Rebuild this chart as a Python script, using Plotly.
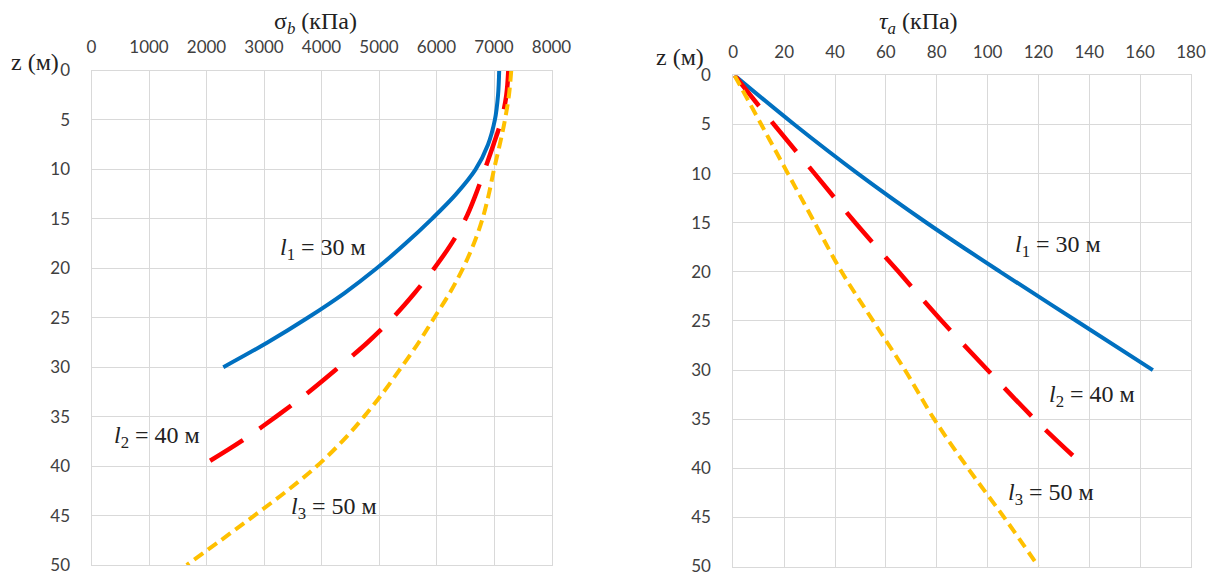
import plotly.graph_objects as go

# ---------------- data ----------------
# Left panel: sigma_b (kPa) vs depth z (m)
z_l1_sig = [0, 2.5, 5, 7.5, 10, 12.5, 15, 17.5, 20, 22.5, 25, 27.5, 30]
sig_l1 = [7090, 7070, 7015, 6895, 6680, 6340, 5920, 5460, 4960, 4400, 3760, 3060, 2292]

z_l2_sig = [0, 2.5, 5, 7.5, 10, 12.5, 15, 17.5, 20, 22.5, 25, 27.5, 30, 32.5, 35, 37.5, 39.5]
sig_l2 = [7250, 7215, 7130, 6990, 6840, 6685, 6505, 6260, 5960, 5620, 5240, 4800, 4300, 3780, 3210, 2600, 2050]

z_l3_sig = [0, 2.5, 5, 7.5, 10, 12.5, 15, 17.5, 20, 22.5, 25, 27.5, 30, 32.5, 35,
            37.5, 40, 42.5, 45, 47.5, 50]
sig_l3 = [7300, 7260, 7190, 7100, 7000, 6910, 6800, 6650, 6460, 6230, 5960, 5690, 5390, 5080, 4740,
          4360, 3920, 3400, 2830, 2250, 1655]

# Right panel: tau_a (kPa) vs depth z (m)
z_l1_tau = [0, 5, 10, 15, 20, 25, 30]
tau_l1 = [0.5, 24, 49, 76, 105, 135, 165]

z_l2_tau = [0, 5, 10, 15, 20, 25, 30, 35, 38.7]
tau_l2 = [0.5, 16, 32, 48, 65, 82, 100, 118.5, 133.5]

z_l3_tau = [0, 5, 10, 15, 20, 25, 30, 35, 40, 45, 50]
tau_l3 = [0.5, 11, 21.5, 32, 42.6, 55, 67.5, 79, 92.3, 106.5, 120]

sig_ticks = [0, 1000, 2000, 3000, 4000, 5000, 6000, 7000, 8000]
tau_ticks = [0, 20, 40, 60, 80, 100, 120, 140, 160, 180]
z_ticks = [0, 5, 10, 15, 20, 25, 30, 35, 40, 45, 50]

labels = ["<i>l</i><sub>1</sub> = 30 м", "<i>l</i><sub>2</sub> = 40 м", "<i>l</i><sub>3</sub> = 50 м"]

# ---------------- styles ----------------
OFF = 8                     # default page body margin
WIN_W, WIN_H = 1220, 575
W, H = WIN_W - OFF, WIN_H - OFF
BLUE, RED, YELLOW = "#0070C0", "#FF0000", "#FFC000"
GRID = "#d9d9d9"
TICKFONT = dict(family="Lato, Open Sans, sans-serif", size=17, color="#404040")
SERIF = "Liberation Serif, Times New Roman, serif"

def px(x):
    return (x - OFF) / W

def py(y):
    return 1 - (y - OFF) / H

fig = go.Figure()

styles = [
    dict(color=BLUE, width=4, dash="solid", shape="spline"),
    dict(color=RED, width=4.5, dash="39px,20px", shape="spline"),
    dict(color=YELLOW, width=4, dash="11px,6px", shape="spline"),
]

for xs, zs, st in zip([sig_l1, sig_l2, sig_l3], [z_l1_sig, z_l2_sig, z_l3_sig], styles):
    fig.add_trace(go.Scatter(x=xs, y=zs, mode="lines", line=st, xaxis="x", yaxis="y",
                             hoverinfo="skip"))
for xs, zs, st in zip([tau_l1, tau_l2, tau_l3], [z_l1_tau, z_l2_tau, z_l3_tau], styles):
    fig.add_trace(go.Scatter(x=xs, y=zs, mode="lines", line=st, xaxis="x2", yaxis="y2",
                             hoverinfo="skip"))

axis_common = dict(showgrid=True, gridcolor=GRID, gridwidth=1, zeroline=False,
                   showline=True, linecolor=GRID, linewidth=1, mirror=True,
                   ticks="", tickfont=TICKFONT, automargin=False,
                   ticklabeloverflow="allow")

fig.update_layout(
    width=W, height=H,
    margin=dict(l=0, r=0, t=0, b=0, autoexpand=False),
    paper_bgcolor="white", plot_bgcolor="white",
    showlegend=False,
    xaxis=dict(domain=[px(91.5), px(551.5)], range=[0, 8000], side="top",
               tickvals=sig_ticks, anchor="y", ticklabelstandoff=10, **axis_common),
    yaxis=dict(domain=[py(565), py(70.5)], range=[50, 0], tickvals=z_ticks,
               anchor="x", ticklabelstandoff=17, **axis_common),
    xaxis2=dict(domain=[px(733.3), px(1191)], range=[0, 180], side="top",
                tickvals=tau_ticks, anchor="y2", ticklabelstandoff=10, **axis_common),
    yaxis2=dict(domain=[py(566.5), py(75.4)], range=[50, 0], tickvals=z_ticks,
                anchor="x2", ticklabelstandoff=18, **axis_common),
)

ann = []
def paper_text(t, x, y, size):
    return dict(text=t, x=px(x), y=py(y), xref="paper", yref="paper",
                xanchor="center", yanchor="middle", showarrow=False,
                font=dict(family=SERIF, size=size, color="#222"))

# titles
ann.append(paper_text("σ<sub><i>b</i></sub> (кПа)", 315, 23, 24))
ann.append(paper_text("<i>τ<sub>a</sub></i> (кПа)", 918, 23, 24))
# z labels
ann.append(paper_text("z (м)", 35, 62, 24))
ann.append(paper_text("z (м)", 680, 57, 24))

# curve labels (data coords)
left_pos = [(4026, 18.0), (1139, 37.1), (4217, 44.2)]
right_pos = [(127.6, 17.4), (141, 32.6), (124.8, 42.6)]
for t, (x, y) in zip(labels, left_pos):
    ann.append(dict(text=t, x=x, y=y, xref="x", yref="y", showarrow=False,
                    xanchor="center", yanchor="middle",
                    font=dict(family=SERIF, size=24, color="#222")))
for t, (x, y) in zip(labels, right_pos):
    ann.append(dict(text=t, x=x, y=y, xref="x2", yref="y2", showarrow=False,
                    xanchor="center", yanchor="middle",
                    font=dict(family=SERIF, size=24, color="#222")))

fig.update_layout(annotations=ann)

fig.write_html("out.html")
